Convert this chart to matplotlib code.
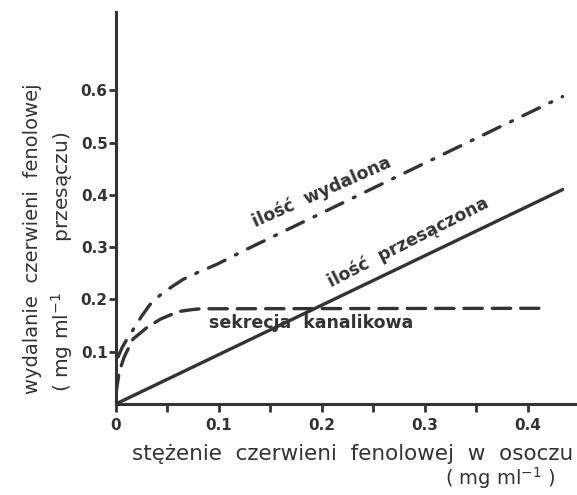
import numpy as np
import matplotlib
matplotlib.use("Agg")
import matplotlib.pyplot as plt

# values
x_przesaczona = [0.0, 0.434]
y_przesaczona = [0.0, 0.41]

x_sekrecja = [0.0, 0.003, 0.008, 0.0165, 0.03, 0.043, 0.055, 0.062, 0.072, 0.082, 0.42]
y_sekrecja = [0.02, 0.06, 0.09, 0.124, 0.146, 0.162, 0.172, 0.177, 0.18, 0.182, 0.183]

x_wydalona = [0.002, 0.006, 0.011, 0.016, 0.025, 0.033, 0.045, 0.065, 0.08, 0.098, 0.123, 0.434]
y_wydalona = [0.09, 0.108, 0.125, 0.14, 0.168, 0.19, 0.212, 0.238, 0.252, 0.267, 0.292, 0.588]

x_ticks = [0.0, 0.1, 0.2, 0.3, 0.4]
x_tick_labels = ["0", "0.1", "0.2", "0.3", "0.4"]
x_minor = [0.05, 0.15, 0.25, 0.35]
y_ticks = [0.1, 0.2, 0.3, 0.4, 0.5, 0.6]
y_tick_labels = ["0.1", "0.2", "0.3", "0.4", "0.5", "0.6"]

ink = "#333333"

fig = plt.figure(figsize=(5.77, 4.95), dpi=100)
ax = fig.add_axes([0.201, 0.184, 0.799, 0.792])

ax.plot(x_przesaczona, y_przesaczona, color=ink, lw=2.4, solid_capstyle="round")
ax.plot(x_sekrecja, y_sekrecja, color=ink, lw=2.4, dashes=(5.5, 3), dash_capstyle="round")
ax.plot(x_wydalona, y_wydalona, color=ink, lw=2.4, dashes=(5.5, 3.5, 0.6, 3.5), dash_capstyle="round")

ax.set_xlim(0, 0.448)
ax.set_ylim(0, 0.75)
ax.spines["top"].set_visible(False)
ax.spines["right"].set_visible(False)
for s in ["left", "bottom"]:
    ax.spines[s].set_linewidth(2.2)
    ax.spines[s].set_color(ink)

ax.set_xticks(x_ticks)
ax.set_xticklabels(x_tick_labels, fontsize=11, color=ink, fontweight="bold")
ax.set_xticks(x_minor, minor=True)
ax.set_yticks(y_ticks)
ax.set_yticklabels(y_tick_labels, fontsize=11, color=ink, fontweight="bold")
ax.tick_params(axis="x", which="both", length=6, width=2, color=ink, pad=4)
ax.tick_params(axis="y", length=5, width=2, color=ink, pad=1)

ax.text(0.2, 0.405, "ilość  wydalona", rotation=24, fontsize=12.5, color=ink,
        fontweight="bold", ha="center", va="center", rotation_mode="anchor")
ax.text(0.284, 0.31, "ilość  przesączona", rotation=27, fontsize=12.5, color=ink,
        fontweight="bold", ha="center", va="center", rotation_mode="anchor")
ax.text(0.19, 0.155, "sekrecja  kanalikowa", fontsize=12.5, color=ink,
        fontweight="bold", ha="center", va="center")

fig.text(0.612, 0.082, "stężenie  czerwieni  fenolowej  w  osoczu", fontsize=15.5,
         color=ink, ha="center", va="center")
fig.text(0.867, 0.034, "( mg ml$^{-1}$ )", fontsize=14, color=ink, ha="center", va="center")
fig.text(0.057, 0.517, "wydalanie  czerwieni  fenolowej", rotation=90, fontsize=14,
         color=ink, ha="center", va="center")
fig.text(0.108, 0.47, "( mg ml$^{-1}$        przesączu)", rotation=90, fontsize=14.5,
         color=ink, ha="center", va="center")

fig.savefig("out.png", dpi=100)
